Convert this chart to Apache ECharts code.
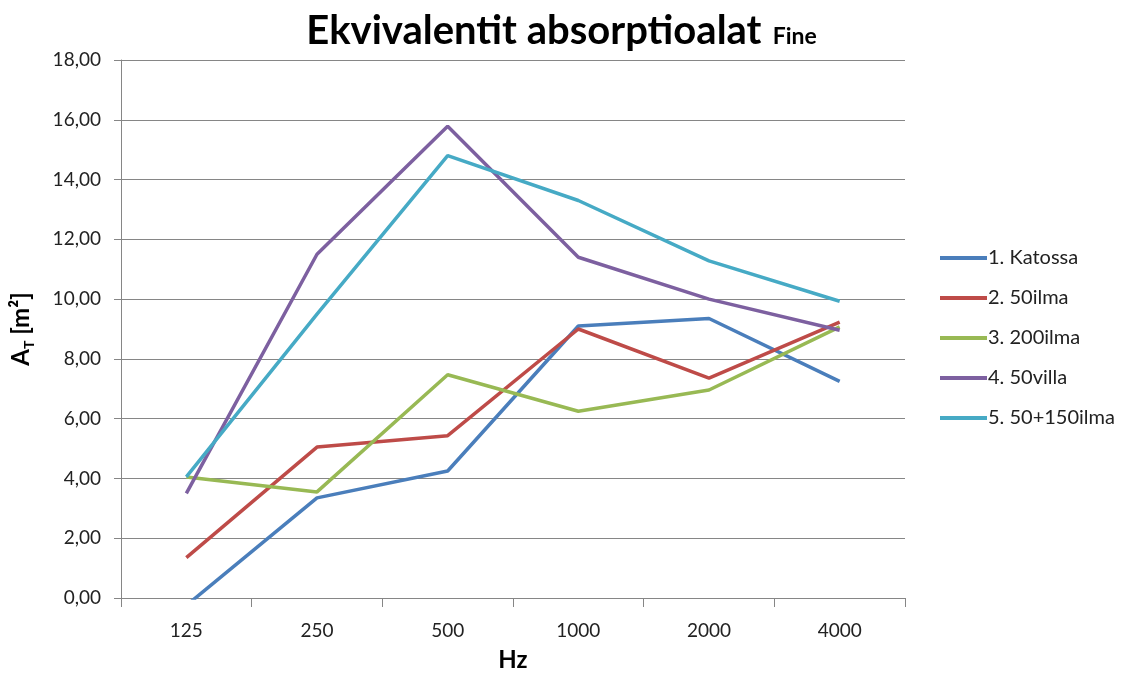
<!DOCTYPE html>
<html>
<head>
<meta charset="utf-8">
<script src="https://cdn.jsdelivr.net/npm/echarts@6/dist/echarts.min.js"></script>
<style>html,body{margin:0;padding:0;background:#fff}#c{width:1123px;height:674px}</style>
</head>
<body>
<div id="c"></div>
<script>
const categories = ['125', '250', '500', '1000', '2000', '4000'];
const seriesNames = ['1. Katossa', '2. 50ilma', '3. 200ilma', '4. 50villa', '5. 50+150ilma'];
const katossa = [-0.25, 3.35, 4.25, 9.1, 9.35, 7.25];
const ilma50 = [1.35, 5.05, 5.43, 9.0, 7.36, 9.23];
const ilma200 = [4.05, 3.55, 7.47, 6.25, 6.96, 9.07];
const villa50 = [3.5, 11.5, 15.78, 11.4, 10.0, 8.96];
const ilma50150 = [4.05, 9.5, 14.8, 13.3, 11.28, 9.93];
const colors = ['#4A7EBB', '#BE4B48', '#98B954', '#7D60A0', '#46AAC5'];
const values = [katossa, ilma50, ilma200, villa50, ilma50150];

const FONT = 'Lato';
const chart = echarts.init(document.getElementById('c'));
chart.setOption({
  animation: false,
  backgroundColor: '#fff',
  title: {
    text: '{t|Ekvivalentit absorptioalat}{s|  Fine}',
    left: 'center',
    top: 6,
    textStyle: {
      rich: {
        t: { fontFamily: FONT, fontWeight: 'bold', fontSize: 40, color: '#000', letterSpacing: 0.5 },
        s: { fontFamily: FONT, fontWeight: 'bold', fontSize: 23, color: '#000', verticalAlign: 'bottom', padding: [0,0,3,0] }
      }
    }
  },
  legend: {
    orient: 'vertical',
    left: 935,
    top: 243,
    itemGap: 20,
    itemWidth: 47,
    itemHeight: 4,
    icon: 'rect',
    data: seriesNames,
    textStyle: { fontFamily: FONT, fontSize: 20, lineHeight: 20, color: '#222', padding: [0,0,0,-4] }
  },
  grid: { left: 121, right: 218, top: 60, bottom: 76, containLabel: false, outerBoundsMode: 'none' },
  xAxis: {
    type: 'category',
    data: categories,
    boundaryGap: true,
    name: 'Hz',
    nameLocation: 'middle',
    nameGap: 50,
    nameTextStyle: { fontFamily: FONT, fontWeight: 'bold', fontSize: 24, color: '#000' },
    axisLine: { lineStyle: { color: '#868686', width: 1 } },
    axisTick: { show: true, length: 9, lineStyle: { color: '#868686' } },
    axisLabel: { fontFamily: FONT, fontSize: 19, color: '#222', margin: 23 },
    splitLine: { show: false }
  },
  yAxis: {
    type: 'value',
    min: 0,
    max: 18,
    interval: 2,
    name: '{a|A}{s|T}{a| [m²]}',
    nameLocation: 'middle',
    nameGap: 85,
    nameRotate: 90,
    nameTextStyle: {
      rich: {
        a: { fontFamily: FONT, fontWeight: 'bold', fontSize: 24, color: '#000', lineHeight: 30 },
        s: { fontFamily: FONT, fontWeight: 'bold', fontSize: 14, color: '#000', verticalAlign: 'bottom', lineHeight: 30 }
      }
    },
    axisLine: { show: true, lineStyle: { color: '#868686', width: 1 } },
    axisTick: { show: true, length: 7, lineStyle: { color: '#868686' } },
    axisLabel: {
      fontFamily: FONT, fontSize: 19, color: '#222', margin: 20,
      formatter: v => v.toFixed(2).replace('.', ',')
    },
    splitLine: { show: true, lineStyle: { color: '#868686', width: 1 } }
  },
  series: seriesNames.map((n, i) => ({
    name: n,
    type: 'line',
    data: values[i],
    symbol: 'none',
    clip: true,
    lineStyle: { color: colors[i], width: 3.5 },
    itemStyle: { color: colors[i] }
  }))
});
</script>
</body>
</html>
